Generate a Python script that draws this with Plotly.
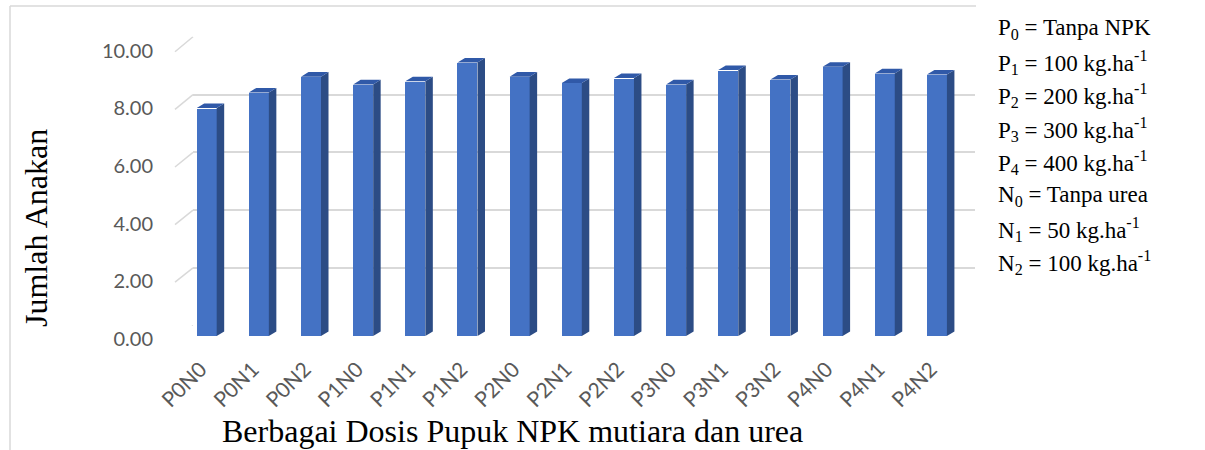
import plotly.graph_objects as go

categories = ["P0N0", "P0N1", "P0N2", "P1N0", "P1N1", "P1N2", "P2N0", "P2N1",
              "P2N2", "P3N0", "P3N1", "P3N2", "P4N0", "P4N1", "P4N2"]
values = [7.90, 8.44, 8.99, 8.72, 8.83, 9.48, 8.99, 8.77, 8.94, 8.72, 9.22, 8.89, 9.33, 9.10, 9.06]
y_ticks = [0, 2, 4, 6, 8, 10]
legend_lines = [
    "P<sub>0</sub> = Tanpa NPK",
    "P<sub>1</sub> = 100 kg.ha<sup>-1</sup>",
    "P<sub>2</sub> = 200 kg.ha<sup>-1</sup>",
    "P<sub>3</sub> = 300 kg.ha<sup>-1</sup>",
    "P<sub>4</sub> = 400 kg.ha<sup>-1</sup>",
    "N<sub>0</sub> = Tanpa urea",
    "N<sub>1</sub> = 50 kg.ha<sup>-1</sup>",
    "N<sub>2</sub> = 100 kg.ha<sup>-1</sup>",
]

W, H = 1205, 450
SERIF = "Liberation Serif, Times New Roman, serif"
SANS = "Lato, Carlito, Calibri, sans-serif"
GRID = "#D9D9D9"

# pixel geometry of the pseudo-3D plot
bx0, bx1 = 178, 963          # bar plane x extent
by0, by1 = 336, 47.5         # bar plane y for 0 and 10
gx0, gx1 = 193, 975          # back wall x extent
gy0, gy1 = 326, 36.5         # back wall y for 0 and 10
xr = [-0.55, 14.5]
px_per_x = (bx1 - bx0) / (xr[1] - xr[0])
px_per_y = (by0 - by1) / 10.0

w = 20 / px_per_x            # front face width
dx = 7.5 / px_per_x          # depth offset
dy = 4.6 / px_per_y

xs = list(range(len(categories)))

fig = go.Figure()

# helper trace for the back wall axes (x, y) -> drawn first, below the bars
fig.add_trace(go.Scatter(x=[0], y=[0], xaxis="x", yaxis="y", mode="markers",
                         marker=dict(opacity=0), showlegend=False, hoverinfo="skip"))

fig.add_trace(go.Bar(
    x=xs, y=values, width=w, xaxis="x2", yaxis="y2",
    marker=dict(color="#4472C4", line=dict(width=0)),
    showlegend=False, hoverinfo="skip"))

side_x, side_y, top_x, top_y = [], [], [], []
for i, v in zip(xs, values):
    r = i + w / 2
    l = i - w / 2
    side_x += [r, r, r + dx, r + dx, r, None]
    side_y += [0, v, v + dy, dy, 0, None]
    top_x += [l, r, r + dx, l + dx, l, None]
    top_y += [v, v, v + dy, v + dy, v, None]

fig.add_trace(go.Scatter(x=side_x, y=side_y, xaxis="x2", yaxis="y2", mode="lines",
                         fill="toself", fillcolor="#2C4C85",
                         line=dict(width=0, color="#2C4C85"),
                         showlegend=False, hoverinfo="skip"))
fig.add_trace(go.Scatter(x=top_x, y=top_y, xaxis="x2", yaxis="y2", mode="lines",
                         fill="toself", fillcolor="#3059A8",
                         line=dict(width=0, color="#3059A8"),
                         showlegend=False, hoverinfo="skip"))

shapes = []
for v in y_ticks:
    shapes.append(dict(type="line", xref="x domain", yref="y",
                       xsizemode="pixel", xanchor=0, x0=-18, x1=0,
                       ysizemode="pixel", yanchor=v, y0=-(14 + 0.1 * v), y1=0,
                       line=dict(color=GRID, width=1.5), layer="below"))
# outer frame
shapes.append(dict(type="line", xref="paper", yref="paper",
                   x0=10 / W, x1=10 / W, y0=0, y1=1 - 6 / H,
                   line=dict(color=GRID, width=1.5)))
shapes.append(dict(type="line", xref="paper", yref="paper",
                   x0=10 / W, x1=976 / W, y0=1 - 6 / H, y1=1 - 6 / H,
                   line=dict(color=GRID, width=1.5)))

annotations = []
for k, t in enumerate(legend_lines):
    yc = 29 + 33.4 * k
    annotations.append(dict(text=t, xref="paper", yref="paper",
                            x=996 / W, y=1 - yc / H, xanchor="left", yanchor="middle",
                            showarrow=False, font=dict(family=SERIF, size=23, color="black")))
annotations.append(dict(text="Jumlah Anakan", xref="paper", yref="paper",
                        x=36 / W, y=1 - 228 / H, textangle=-90,
                        xanchor="center", yanchor="middle", showarrow=False,
                        font=dict(family=SERIF, size=32, color="black")))
annotations.append(dict(text="Berbagai Dosis Pupuk NPK mutiara dan urea",
                        xref="paper", yref="paper", x=512 / W, y=1 - 431 / H,
                        xanchor="center", yanchor="middle", showarrow=False,
                        font=dict(family=SERIF, size=32, color="black")))

fig.update_layout(
    width=W, height=H,
    margin=dict(l=0, r=0, t=0, b=0, autoexpand=False),
    paper_bgcolor="white", plot_bgcolor="rgba(0,0,0,0)",
    bargap=0,
    # back wall (gridlines only)
    xaxis=dict(domain=[gx0 / W, gx1 / W], range=xr, anchor="y",
               showgrid=False, zeroline=False, showline=False,
               showticklabels=False, ticks="", automargin=False),
    yaxis=dict(domain=[1 - gy0 / H, 1 - gy1 / H], range=[-0.01, 10.01], anchor="x",
               tickmode="array", tickvals=y_ticks,
               showgrid=True, gridcolor=GRID, gridwidth=1.5, zeroline=False,
               showline=False, showticklabels=False, ticks="", automargin=False),
    # bar plane with the visible tick labels
    xaxis2=dict(domain=[bx0 / W, bx1 / W], range=xr, anchor="y2", tickmode="array",
                tickvals=xs, ticktext=categories, tickangle=-45,
                showgrid=False, zeroline=False, showline=False, ticks="",
                ticklabelstandoff=16, ticklabelshift=-6, automargin=False,
                tickfont=dict(family=SANS, size=21, color="#595959")),
    yaxis2=dict(domain=[1 - by0 / H, 1 - by1 / H], range=[0, 10], anchor="x2",
                tickmode="array", tickvals=y_ticks, tickformat=".2f",
                showgrid=False, zeroline=False, showline=False, ticks="",
                ticklabelstandoff=24, ticklabelshift=3, automargin=False,
                tickfont=dict(family=SANS, size=20, color="#595959")),
    shapes=shapes,
    annotations=annotations,
)

fig.write_html("out.html", config={"displayModeBar": False},
               post_script="document.body.style.margin='0';document.body.style.overflow='hidden';")
